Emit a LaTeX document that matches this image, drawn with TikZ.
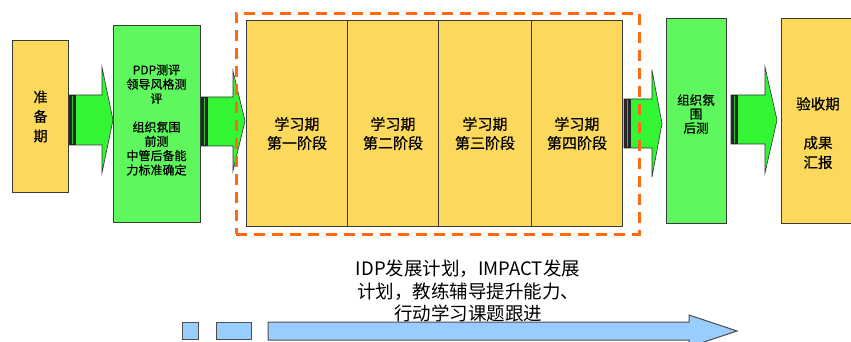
\documentclass[tikz,border=0pt]{standalone}
\usepackage{fontspec}
\setmainfont{Noto Sans CJK SC}
\newfontfamily\cjk{Noto Sans CJK SC}
\newfontfamily\cjkb[FakeBold=0.6]{Noto Sans CJK SC}
\definecolor{ybox}{HTML}{FCD95C}
\definecolor{gbox}{HTML}{5EF75E}
\definecolor{garrow}{HTML}{33F533}
\definecolor{oline}{HTML}{FF6A10}
\definecolor{bfill}{HTML}{99CCFF}
\definecolor{edge}{HTML}{3A3A3A}
\tikzset{
  ybx/.style={draw=edge, line width=1.1pt, fill=ybox},
  gbx/.style={draw=edge, line width=1.1pt, fill=gbox},
  txt/.style={align=center, font=\cjk, inner sep=0pt},
  garr/.style={draw=black!80, line width=0.6pt, fill=garrow},
  barr/.style={draw=edge!90, line width=1pt, fill=bfill},
}
% #1 x0, #2 band end, #3 head x, #4 tip x, #5 shaft top, #6 shaft bottom, #7 head top, #8 head bottom
\newcommand\blockarrow[8]{%
  \draw[garr] (#1,#5) -- (#3,#5) -- (#3,#7) -- (#4,{(#7+#8)/2}) -- (#3,#8) -- (#3,#6) -- (#1,#6) -- cycle;
  \fill[black!85] (#1,#5) rectangle (#2,#6);
  \fill[garrow!80!black] ({#1+0.45*(#2-#1)},#5+0.6) rectangle ({#1+0.6*(#2-#1)},#6-0.6);
}
\begin{document}
\begin{tikzpicture}[x=1pt,y=-1pt]
\useasboundingbox (0,0) rectangle (851,342);
\fill[white] (0,0) rectangle (851,342);

% arrows
\blockarrow{68}{76}{102}{113}{95}{145}{67}{173}
\blockarrow{200}{208}{233}{245}{97}{146}{71}{171}
\blockarrow{624}{631}{652}{662}{99}{148}{70}{177}
\blockarrow{731}{738}{765}{777}{95}{144}{67}{173}

% boxes
\node[ybx, minimum width=56pt, minimum height=152pt, anchor=north west, inner sep=0pt] (prep) at (12,40) {};
\node[txt, font=\cjkb\fontsize{14}{19.5}\selectfont] at (prep.center) {准\\备\\期};

\node[gbx, minimum width=87pt, minimum height=197pt, anchor=north west, inner sep=0pt] (pdp) at (113,25) {};
\node[txt, font=\cjkb\fontsize{12}{14.3}\selectfont] at (156.5,120) {PDP测评\\领导风格测\\评\\[14.3pt]组织氛围\\前测\\中管后备能\\力标准确定};

\node[ybx, minimum width=101pt, minimum height=206pt, anchor=north west, inner sep=0pt] (s1) at (246,20) {};
\node[ybx, minimum width=91pt, minimum height=206pt, anchor=north west, inner sep=0pt] (s2) at (347,20) {};
\node[ybx, minimum width=93pt, minimum height=206pt, anchor=north west, inner sep=0pt] (s3) at (438,20) {};
\node[ybx, minimum width=91pt, minimum height=206pt, anchor=north west, inner sep=0pt] (s4) at (531,20) {};
\node[txt, font=\cjkb\fontsize{15}{19}\selectfont] at (297,133.5) {学习期\\第一阶段};
\node[txt, font=\cjkb\fontsize{15}{19}\selectfont] at (393,133.5) {学习期\\第二阶段};
\node[txt, font=\cjkb\fontsize{15}{19}\selectfont] at (485,133.5) {学习期\\第三阶段};
\node[txt, font=\cjkb\fontsize{15}{19}\selectfont] at (577,133.5) {学习期\\第四阶段};

\node[gbx, minimum width=60pt, minimum height=205pt, anchor=north west, inner sep=0pt] (post) at (666,18) {};
\node[txt, font=\cjkb\fontsize{12.5}{14}\selectfont] at (696,114) {组织氛\\围\\后测};

\node[ybx, minimum width=90pt, minimum height=205pt, anchor=north west, inner sep=0pt] (acc) at (781,18) {};
\node[txt, font=\cjkb\fontsize{14.5}{19.5}\selectfont] at (818,133) {验收期\\[19.5pt]成果\\汇报};

% dashed frame
\node[draw=oline, line width=2.6pt, dash pattern=on 11pt off 7pt, minimum width=403pt, minimum height=221pt, anchor=north west, inner sep=0pt] (frame) at (235,12) {};

% bottom text
\node[txt, font=\cjk\fontsize{18.5}{22.5}\selectfont] (note) at (468,291) {IDP发展计划，IMPACT发展\\计划，教练辅导提升能力、\\行动学习课题跟进};

% bottom blue shapes
\node[barr, minimum width=16pt, minimum height=17pt, anchor=north west, inner sep=0pt] (b1) at (182,322) {};
\node[barr, minimum width=35pt, minimum height=17pt, anchor=north west, inner sep=0pt] (b2) at (216,322) {};
\draw[barr] (268,322) -- (689,322) -- (689,315) -- (737,331) -- (689,347) -- (689,340) -- (268,340) -- cycle;
\end{tikzpicture}
\end{document}
